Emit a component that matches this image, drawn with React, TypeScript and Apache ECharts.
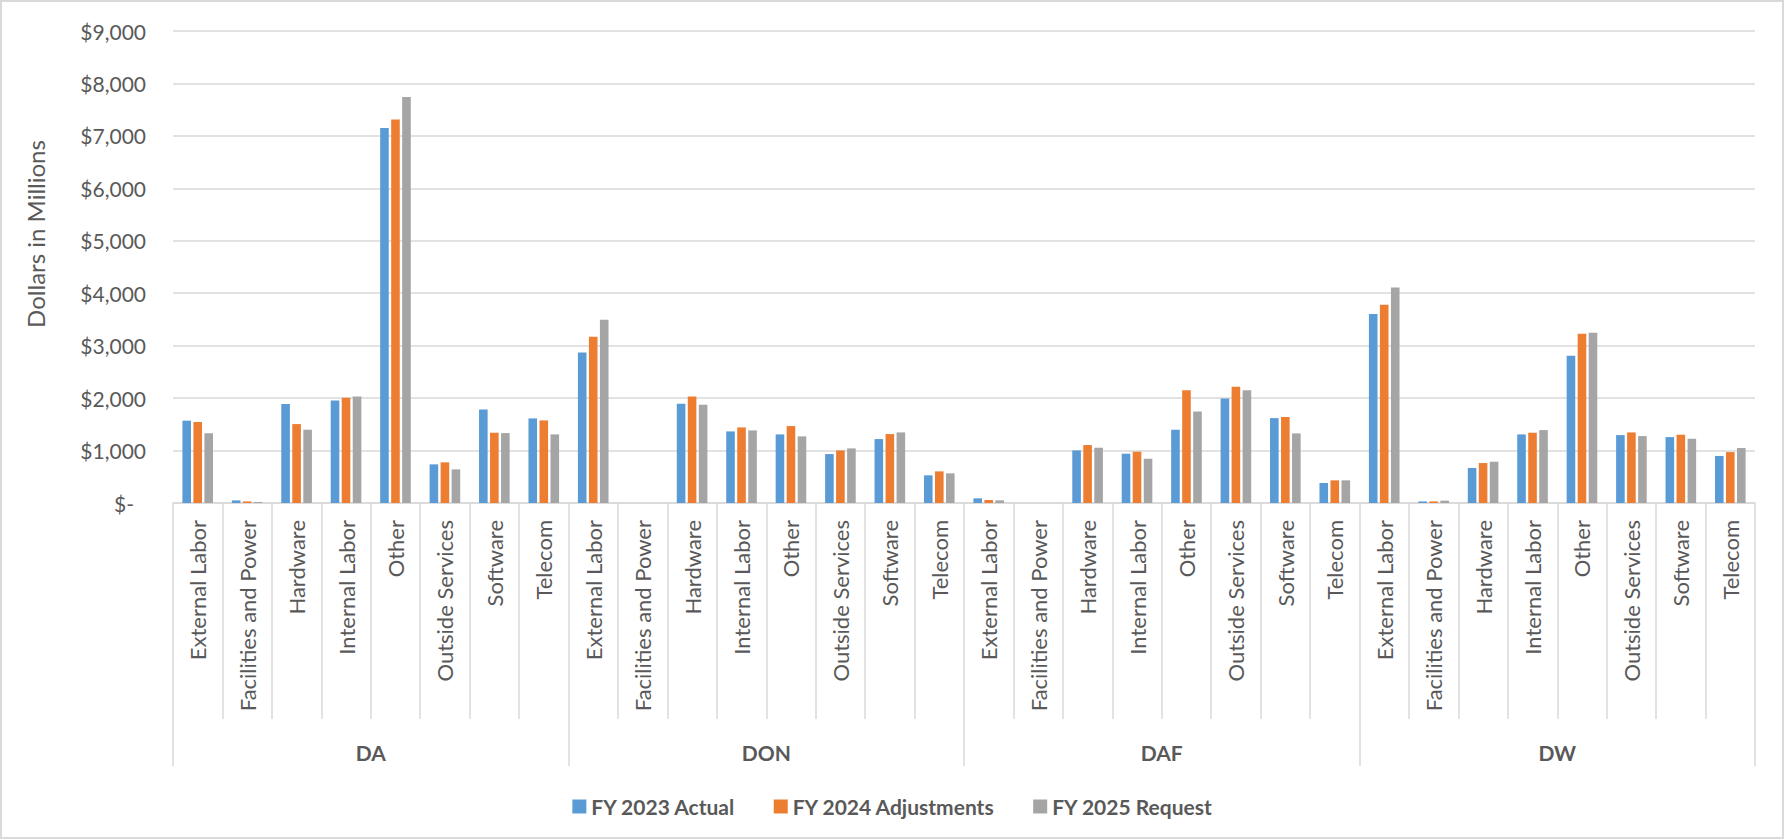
import React, { useEffect, useRef } from "react";
import * as echarts from "echarts";

const groups = ["DA", "DON", "DAF", "DW"];
const subCategories = [
  "External Labor",
  "Facilities and Power",
  "Hardware",
  "Internal Labor",
  "Other",
  "Outside Services",
  "Software",
  "Telecom",
];
const seriesNames = ["FY 2023 Actual", "FY 2024 Adjustments", "FY 2025 Request"];

// Values in $ millions, order: DA (8), DON (8), DAF (8), DW (8)
const fy2023Actual = [
  1570, 50, 1886, 1956, 7149, 737, 1784, 1613,
  2870, 0, 1892, 1365, 1308, 933, 1219, 527,
  89, 0, 1003, 940, 1397, 1994, 1619, 381,
  3606, 30, 667, 1308, 2806, 1295, 1257, 897,
];
const fy2024Adjustments = [
  1545, 30, 1505, 2006, 7314, 775, 1340, 1575,
  3168, 0, 2032, 1441, 1467, 1003, 1314, 603,
  57, 0, 1105, 978, 2152, 2216, 1638, 432,
  3778, 30, 762, 1340, 3225, 1346, 1302, 971,
];
const fy2025Request = [
  1330, 20, 1397, 2032, 7740, 641, 1333, 1308,
  3492, 0, 1873, 1384, 1270, 1041, 1346, 565,
  51, 0, 1054, 844, 1746, 2152, 1327, 432,
  4108, 45, 787, 1390, 3244, 1276, 1225, 1048,
];
const yTicks = { min: 0, max: 9000, interval: 1000 };

const colors = ["#5B9BD5", "#ED7D31", "#A5A5A5"];
const FONT = "Lato, 'Open Sans', sans-serif";
const TEXT = "#595959";
const LINE = "#D9D9D9";

export default function App() {
  const ref = useRef<HTMLDivElement>(null);

  useEffect(() => {
    if (!ref.current) return;
    const chart = echarts.init(ref.current, undefined, { renderer: "svg" });

    const catKeys: string[] = [];
    groups.forEach((g) => subCategories.forEach((c) => catKeys.push(g + "|" + c)));

    const seriesData = [fy2023Actual, fy2024Adjustments, fy2025Request];

    chart.setOption({
      animation: false,
      backgroundColor: "#ffffff",
      color: colors,
      textStyle: { fontFamily: FONT },
      graphic: [
        {
          type: "rect",
          shape: { x: 1, y: 1, width: 1782, height: 837 },
          style: { fill: "none", stroke: LINE, lineWidth: 2 },
          silent: true,
        },
      ],
      grid: { left: 173, right: 30, top: 31, bottom: 337 },
      legend: {
        data: seriesNames,
        left: "center",
        top: 791,
        icon: "rect",
        itemWidth: 14,
        itemHeight: 14,
        itemGap: 38,
        textStyle: { fontSize: 21, fontWeight: "bold", color: TEXT, fontFamily: FONT },
      },
      xAxis: [
        {
          type: "category",
          data: catKeys,
          position: "bottom",
          axisLine: { show: true, lineStyle: { color: LINE, width: 1.5 } },
          axisTick: { show: true, interval: 0, length: 216, lineStyle: { color: LINE, width: 1.5 } },
          axisLabel: {
            interval: 0,
            rotate: 90,
            margin: 17,
            fontSize: 22,
            color: TEXT,
            fontFamily: FONT,
            formatter: (v: string) => v.split("|")[1],
          },
          splitLine: { show: false },
        },
        {
          type: "category",
          data: groups,
          position: "bottom",
          offset: 216,
          axisLine: { show: false },
          axisTick: { show: true, interval: 0, length: 47, lineStyle: { color: LINE, width: 1.5 } },
          axisLabel: {
            interval: 0,
            margin: 23,
            fontSize: 21,
            fontWeight: "bold",
            color: TEXT,
            fontFamily: FONT,
          },
          splitLine: { show: false },
        },
      ],
      yAxis: {
        type: "value",
        min: yTicks.min,
        max: yTicks.max,
        interval: yTicks.interval,
        name: "Dollars in Millions",
        nameLocation: "middle",
        nameRotate: 90,
        nameGap: 126,
        nameTextStyle: { fontSize: 24, color: TEXT, fontFamily: FONT, padding: [0, 0, 0, 66] },
        axisLine: { show: false },
        axisTick: { show: false },
        splitLine: { show: true, lineStyle: { color: LINE, width: 1.5 } },
        axisLabel: {
          margin: 27,
          fontSize: 21,
          color: TEXT,
          fontFamily: FONT,
          formatter: (v: number) =>
            v === 0 ? "{z|$-}" : "$" + v.toLocaleString("en-US"),
          rich: {
            z: { fontSize: 21, color: TEXT, fontFamily: FONT, padding: [0, 12, 0, 0] },
          },
        },
      },
      series: seriesNames.map((name, i) => ({
        name,
        type: "bar",
        xAxisIndex: 0,
        data: seriesData[i],
        barWidth: 8.6,
        barGap: "28%",
        itemStyle: { color: colors[i] },
      })),
    });

    return () => chart.dispose();
  }, []);

  return (
    <div
      ref={ref}
      style={{ position: "fixed", left: 0, top: 0, width: 1785, height: 840, background: "#fff" }}
    />
  );
}
